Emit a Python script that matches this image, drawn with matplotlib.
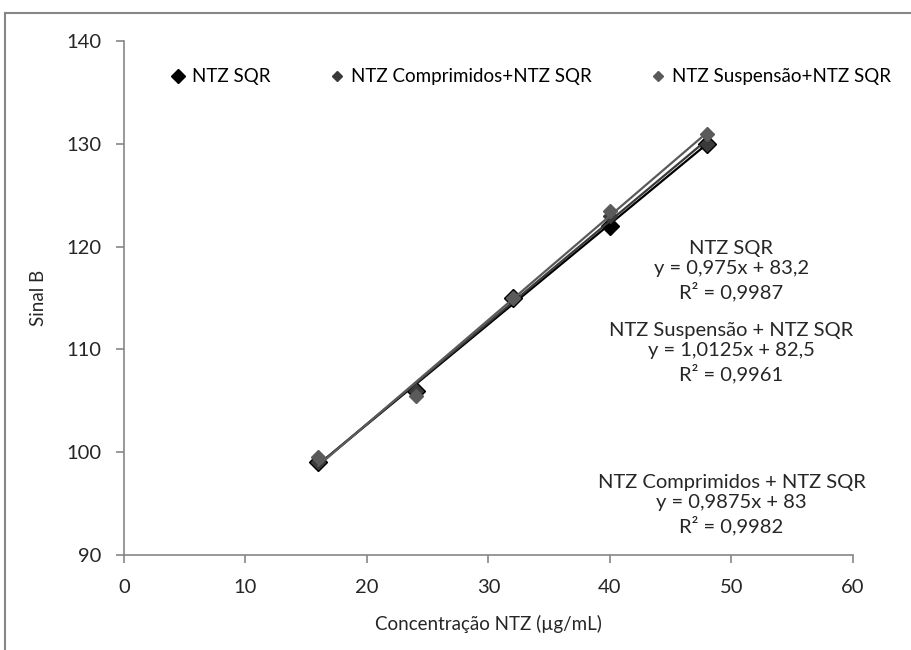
import matplotlib.pyplot as plt
import numpy as np
from matplotlib.lines import Line2D

plt.rcParams['font.family'] = ['Lato', 'DejaVu Sans']

# data
conc = [16, 24, 32, 40, 48]
sqr = [99.0, 106.0, 115.0, 122.0, 130.0]
comprimidos = [99.0, 106.0, 115.0, 123.0, 130.0]
suspensao = [99.5, 105.5, 115.0, 123.5, 131.0]

labels = ['NTZ SQR', 'NTZ Comprimidos+NTZ SQR', 'NTZ Suspensão+NTZ SQR']
colors = ['#000000', '#3a3a3a', '#5a5a5a']
msizes = [9, 7, 7]

fig = plt.figure(figsize=(9.12, 6.5), dpi=100)
ax = fig.add_axes([124 / 912, 1 - 555 / 650, (853 - 124) / 912, (555 - 41) / 650])

x = np.array(conc)
for ys, lab, c, ms in zip([sqr, comprimidos, suspensao], labels, colors, msizes):
    ax.plot(conc, ys, linestyle='none', marker='D', markersize=ms, color=c, label=lab)
    # linear trendline like excel
    m, b = np.polyfit(x, ys, 1)
    xx = np.array([x.min(), x.max()])
    ax.plot(xx, m * xx + b, color=c, linewidth=1.6)

ax.set_xlim(0, 60)
ax.set_ylim(90, 140)
ax.set_xticks(range(0, 61, 10))
ax.set_yticks(range(90, 141, 10))
for s in ['top', 'right']:
    ax.spines[s].set_visible(False)
for s in ['left', 'bottom']:
    ax.spines[s].set_color('#868686')
    ax.spines[s].set_linewidth(1.2)
ax.tick_params(direction='out', length=6, width=1.2, color='#868686',
               labelsize=14.5, labelcolor='#262626')
ax.tick_params(axis='y', pad=10)
ax.tick_params(axis='x', pad=11)
ax.set_xlabel('Concentração NTZ (µg/mL)', fontsize=13.5, color='#262626', labelpad=14)
ax.set_ylabel('Sinal B', fontsize=13.5, color='#262626', labelpad=14)

leg = ax.legend(loc='upper center', bbox_to_anchor=(0.56, 0.98), ncol=3, frameon=False,
                fontsize=13.5, handlelength=0.5, handletextpad=0.5, columnspacing=3.3,
                markerscale=0.75)

eqs = [
    ('NTZ SQR', 'y = 0,975x + 83,2', 'R² = 0,9987', 117.7),
    ('NTZ Suspensão + NTZ SQR', 'y = 1,0125x + 82,5', 'R² = 0,9961', 109.7),
    ('NTZ Comprimidos + NTZ SQR', 'y = 0,9875x + 83', 'R² = 0,9982', 94.9),
]
for t1, t2, t3, yy in eqs:
    ax.text(50, yy, t1 + '\n' + t2 + '\n' + t3, ha='center', va='center',
            fontsize=14.5, color='#262626', linespacing=1.25)

# outer chart frame (only left and top edges visible)
fig.add_artist(Line2D([5 / 912, 5 / 912], [0, 1 - 13 / 650], color='#868686', linewidth=1.5))
fig.add_artist(Line2D([5 / 912, 1], [1 - 13 / 650, 1 - 13 / 650], color='#868686', linewidth=1.5))

fig.savefig('out.png', dpi=100)
